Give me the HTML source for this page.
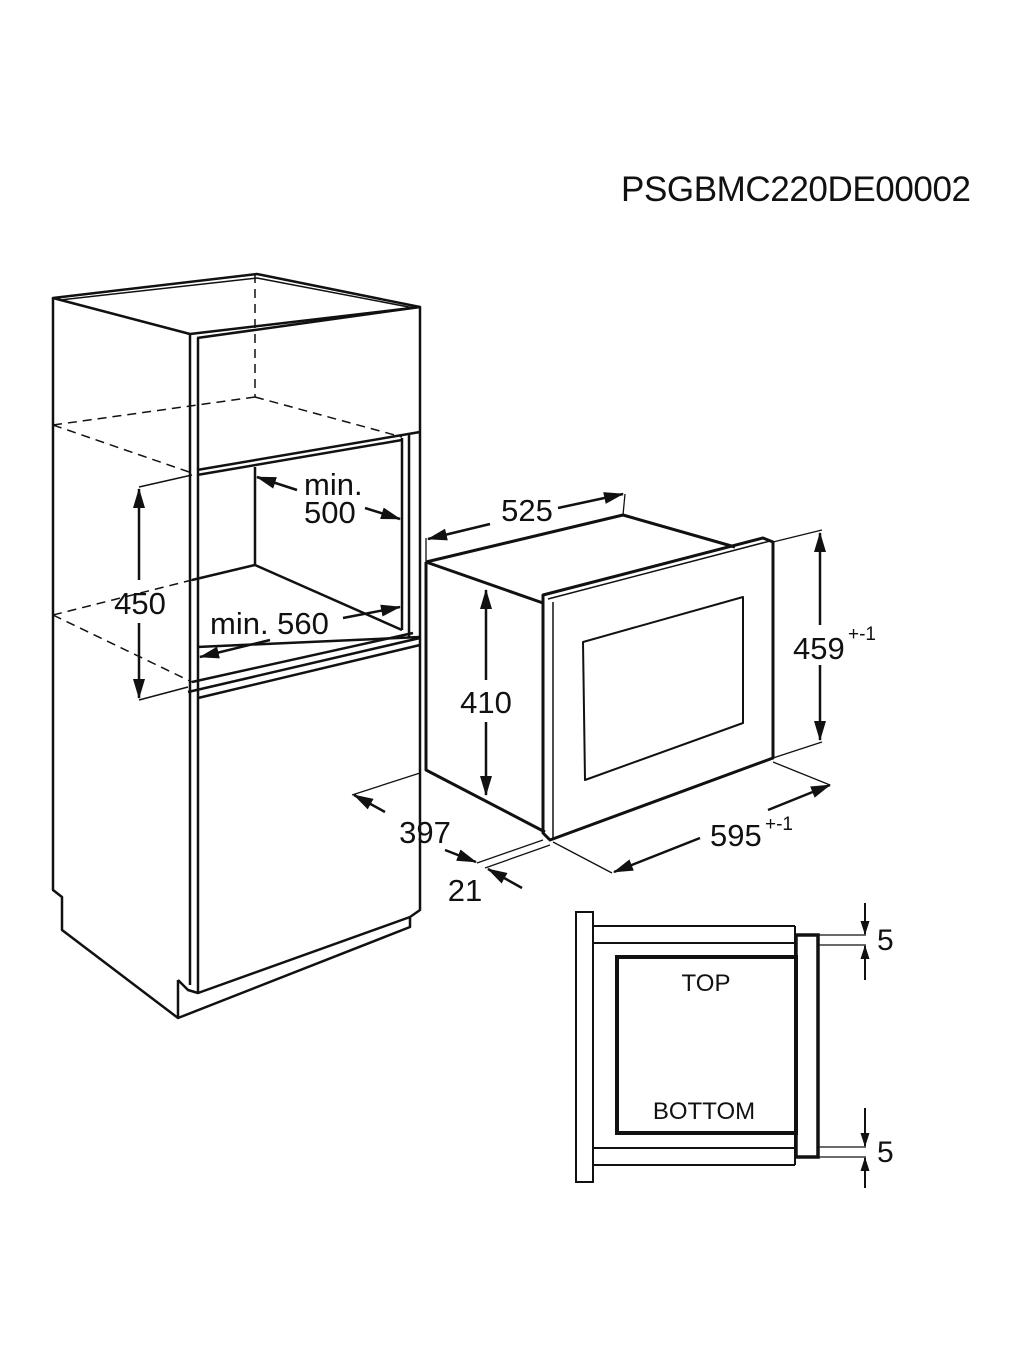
<!DOCTYPE html>
<html><head><style>html,body{margin:0;padding:0;background:#fff}svg{display:block}</style></head>
<body>
<svg width="1024" height="1365" viewBox="0 0 1024 1365" xmlns="http://www.w3.org/2000/svg" font-family="Liberation Sans, Arial, sans-serif" fill="none" stroke="#111">
<defs>
<marker id="b" viewBox="0 0 20 12" refX="19" refY="6" markerWidth="20" markerHeight="12" orient="auto-start-reverse" markerUnits="userSpaceOnUse"><path d="M0,0 L20,6 L0,12 z" fill="#111" stroke="none"/></marker>
<marker id="c" viewBox="0 0 14 9" refX="13" refY="4.5" markerWidth="14" markerHeight="9" orient="auto-start-reverse" markerUnits="userSpaceOnUse"><path d="M0,0 L14,4.5 L0,9 z" fill="#111" stroke="none"/></marker>
</defs>
<text x="621" y="201" font-size="35" fill="#111" stroke="none" textLength="350">PSGBMC220DE00002</text>

<!-- cabinet -->
<g stroke-width="2.5" stroke-linejoin="round">
<polygon points="53,298 257,274 420,307 190,334"/>
<polyline points="60,300 257,278 414,308" stroke-width="1.5"/>
<polyline points="53,298 53,890 62,897 62,930 178,1018 410,927 410,917 420,910 420,307"/>
<polyline points="178,980 178,1018"/>
<line x1="190" y1="334" x2="190" y2="985"/>
<line x1="198" y1="338" x2="198" y2="993"/>
<polyline points="178,980 188,990 198,993 410,917"/>
<polyline points="197,338 420,307"/>
<polyline points="197,470 420,432"/>
<line x1="402" y1="438" x2="402" y2="630"/>
<line x1="409" y1="433" x2="409" y2="637"/>
<line x1="255" y1="467" x2="255" y2="565"/>
<polyline points="192,580 255,565 402,630"/>
<line x1="197" y1="647" x2="420" y2="637"/>
<line x1="192" y1="682" x2="413" y2="633"/>
<line x1="188" y1="692" x2="420" y2="638"/>
<line x1="198" y1="698" x2="420" y2="645"/>
<line x1="197" y1="475" x2="402" y2="440"/>
</g>
<g stroke-width="1.5" stroke-dasharray="9,6">
<line x1="255" y1="274" x2="255" y2="397"/>
<line x1="53" y1="425" x2="255" y2="397"/>
<line x1="255" y1="397" x2="402" y2="437"/>
<line x1="53" y1="425" x2="192" y2="473"/>
<line x1="53" y1="615" x2="192" y2="580"/>
<line x1="53" y1="615" x2="192" y2="682"/>
</g>
<!-- cabinet dims -->
<g stroke-width="1.5">
<line x1="139" y1="487" x2="192" y2="475"/>
<line x1="139" y1="700" x2="188" y2="687"/>
</g>
<g stroke-width="2.5">
<line x1="139" y1="489" x2="139" y2="580" marker-start="url(#b)"/>
<line x1="139" y1="623" x2="139" y2="698" marker-end="url(#b)"/>
<line x1="297" y1="490" x2="257" y2="477" marker-end="url(#b)"/>
<line x1="365" y1="508" x2="400" y2="519" marker-end="url(#b)"/>
<line x1="343" y1="618" x2="400" y2="607" marker-end="url(#b)"/>
<line x1="270" y1="640" x2="200" y2="657" marker-end="url(#b)"/>
</g>
<g fill="#111" stroke="none" font-size="31">
<text x="140" y="614" text-anchor="middle">450</text>
<text x="304" y="495">min.</text>
<text x="304" y="523">500</text>
<text x="210" y="634">min. 560</text>
</g>

<!-- oven -->
<g stroke-width="3" stroke-linejoin="round">
<polyline points="426,562 623,515 735,547"/>
<polyline points="426,562 426,770 545,832"/>
<line x1="426" y1="562" x2="543" y2="603"/>
<polygon points="543,595 763,538 773,542 773,758 550,840 543,833"/>
<line x1="553" y1="602" x2="553" y2="838" stroke-width="1.5"/>
<line x1="548" y1="599" x2="770" y2="541" stroke-width="1.5"/>
<polygon points="583,642 743,597 743,723 585,780" stroke-width="2"/>
</g>
<g stroke-width="1.3">
<line x1="426" y1="562" x2="426" y2="538"/>
<line x1="623" y1="515" x2="625" y2="494"/>
<line x1="773" y1="542" x2="822" y2="530"/>
<line x1="773" y1="758" x2="822" y2="742"/>
<line x1="773" y1="762" x2="830" y2="785"/>
<line x1="553" y1="842" x2="612" y2="873"/>
<line x1="420" y1="773" x2="352" y2="795"/>
<line x1="543" y1="840" x2="477" y2="863"/>
<line x1="550" y1="845" x2="485" y2="868"/>
<line x1="420" y1="773" x2="420" y2="800"/>
<line x1="420" y1="845" x2="420" y2="910"/>
</g>
<g stroke-width="2.5">
<line x1="490" y1="524" x2="428" y2="539" marker-end="url(#b)"/>
<line x1="558" y1="508" x2="623" y2="494" marker-end="url(#b)"/>
<line x1="486" y1="680" x2="486" y2="590" marker-end="url(#b)"/>
<line x1="486" y1="722" x2="486" y2="795" marker-end="url(#b)"/>
<line x1="820" y1="625" x2="820" y2="533" marker-end="url(#b)"/>
<line x1="820" y1="665" x2="820" y2="740" marker-end="url(#b)"/>
<line x1="768" y1="810" x2="830" y2="785" marker-end="url(#b)"/>
<line x1="700" y1="838" x2="614" y2="872" marker-end="url(#b)"/>
<line x1="385" y1="812" x2="354" y2="795" marker-end="url(#b)"/>
<line x1="445" y1="850" x2="476" y2="862" marker-end="url(#b)"/>
<line x1="522" y1="888" x2="488" y2="869" marker-end="url(#b)"/>
</g>
<g fill="#111" stroke="none" font-size="31">
<text x="527" y="521" text-anchor="middle">525</text>
<text x="486" y="713" text-anchor="middle">410</text>
<text x="793" y="659">459</text><text x="848" y="640" font-size="19">+-1</text>
<text x="710" y="846">595</text><text x="765" y="830" font-size="19">+-1</text>
<text x="425" y="843" text-anchor="middle">397</text>
<text x="465" y="901" text-anchor="middle">21</text>
</g>

<!-- section -->
<g stroke-width="2">
<rect x="576" y="912" width="17" height="270"/>
<line x1="593" y1="926" x2="795" y2="926"/>
<line x1="593" y1="943" x2="795" y2="943"/>
<line x1="593" y1="1148" x2="795" y2="1148"/>
<line x1="593" y1="1165" x2="795" y2="1165"/>
<line x1="795" y1="926" x2="795" y2="1165"/>
</g>
<rect x="617" y="957" width="179" height="176" stroke-width="4"/>
<rect x="796" y="935" width="22" height="222" stroke-width="3.5"/>
<g stroke-width="1.3">
<line x1="818" y1="935" x2="866" y2="935"/>
<line x1="818" y1="945" x2="866" y2="945"/>
<line x1="818" y1="1147" x2="866" y2="1147"/>
<line x1="818" y1="1157" x2="866" y2="1157"/>
</g>
<g stroke-width="2">
<line x1="865" y1="903" x2="865" y2="934" marker-end="url(#c)"/>
<line x1="865" y1="980" x2="865" y2="946" marker-end="url(#c)"/>
<line x1="865" y1="1108" x2="865" y2="1146" marker-end="url(#c)"/>
<line x1="865" y1="1188" x2="865" y2="1158" marker-end="url(#c)"/>
</g>
<g fill="#111" stroke="none">
<text x="877" y="950" font-size="30">5</text>
<text x="877" y="1162" font-size="30">5</text>
<text x="706" y="991" font-size="24" text-anchor="middle">TOP</text>
<text x="704" y="1119" font-size="24" text-anchor="middle">BOTTOM</text>
</g>
</svg>
</body></html>
